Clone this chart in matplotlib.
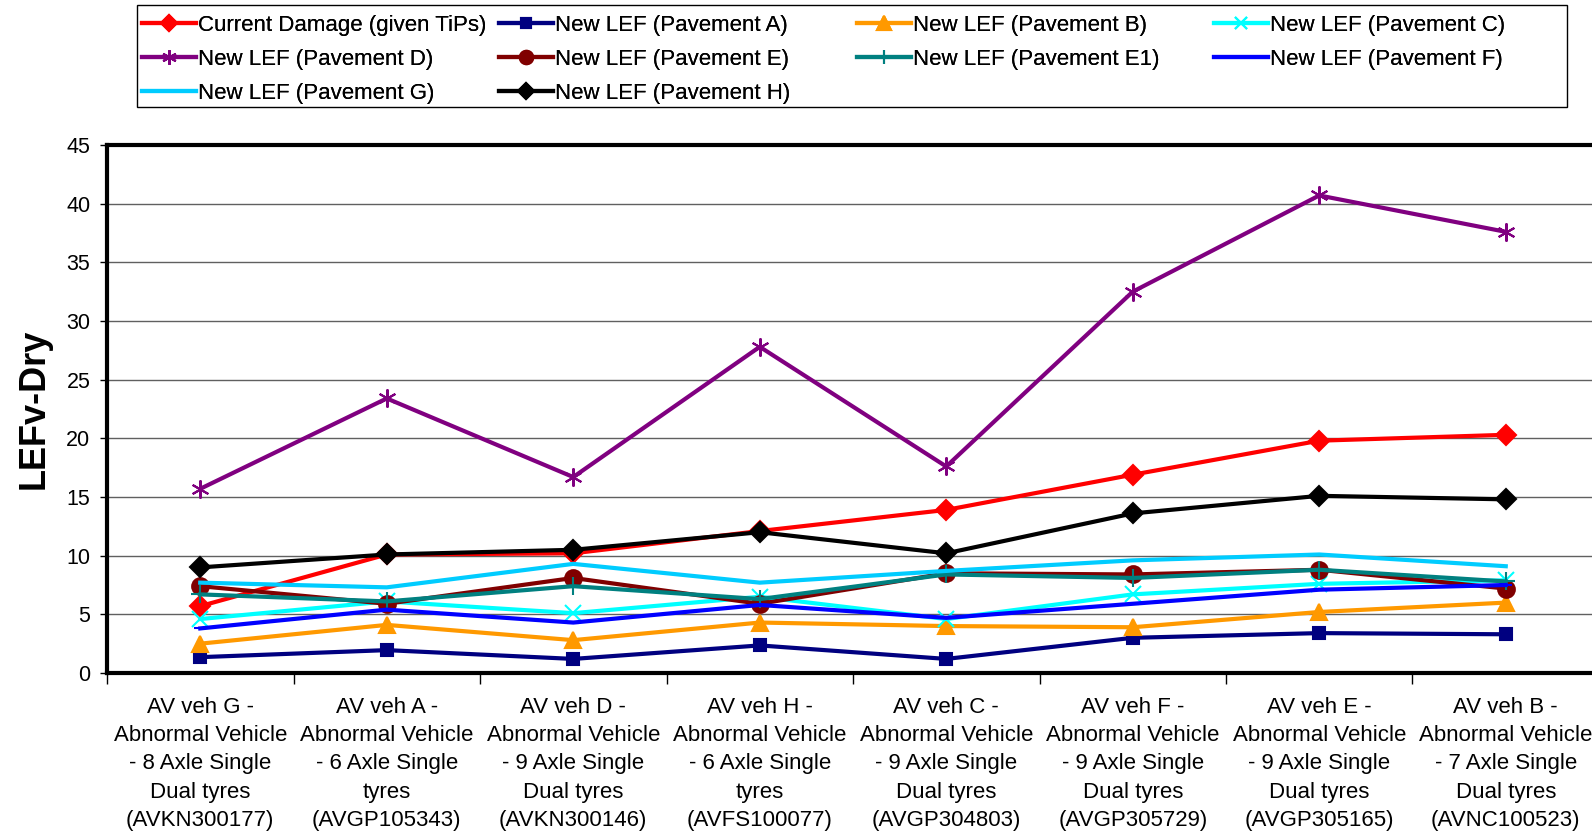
import matplotlib.pyplot as plt
from matplotlib.patches import Rectangle
import numpy as np

plt.rcParams['font.family'] = ['Liberation Sans', 'DejaVu Sans']

vehicles = [
    "AV veh G -\nAbnormal Vehicle\n- 8 Axle Single\nDual tyres\n(AVKN300177)",
    "AV veh A -\nAbnormal Vehicle\n- 6 Axle Single\ntyres\n(AVGP105343)",
    "AV veh D -\nAbnormal Vehicle\n- 9 Axle Single\nDual tyres\n(AVKN300146)",
    "AV veh H -\nAbnormal Vehicle\n- 6 Axle Single\ntyres\n(AVFS100077)",
    "AV veh C -\nAbnormal Vehicle\n- 9 Axle Single\nDual tyres\n(AVGP304803)",
    "AV veh F -\nAbnormal Vehicle\n- 9 Axle Single\nDual tyres\n(AVGP305729)",
    "AV veh E -\nAbnormal Vehicle\n- 9 Axle Single\nDual tyres\n(AVGP305165)",
    "AV veh B -\nAbnormal Vehicle\n- 7 Axle Single\nDual tyres\n(AVNC100523)",
]

# LEF values per vehicle
current_damage = [5.7, 10.1, 10.2, 12.1, 13.9, 16.9, 19.8, 20.3]
pave_a = [1.35, 1.95, 1.2, 2.35, 1.2, 3.0, 3.4, 3.3]
pave_b = [2.5, 4.1, 2.8, 4.3, 4.0, 3.9, 5.2, 6.0]
pave_c = [4.6, 6.1, 5.1, 6.5, 4.6, 6.7, 7.6, 7.9]
pave_d = [15.7, 23.4, 16.7, 27.8, 17.6, 32.5, 40.7, 37.6]
pave_e = [7.4, 5.9, 8.1, 5.9, 8.5, 8.4, 8.8, 7.2]
pave_e1 = [6.7, 6.1, 7.4, 6.3, 8.4, 8.1, 8.8, 7.8]
pave_f = [3.8, 5.4, 4.3, 5.8, 4.7, 5.9, 7.1, 7.5]
pave_g = [7.7, 7.3, 9.3, 7.7, 8.7, 9.6, 10.1, 9.1]
pave_h = [9.0, 10.1, 10.5, 12.0, 10.2, 13.6, 15.1, 14.8]

x = np.arange(len(vehicles))

fig = plt.figure(figsize=(15.92, 8.32), dpi=100)
ax = fig.add_axes([107 / 1592, 1 - 673 / 832, 1492 / 1592, 528 / 832])

# label, values, colour, marker, marker size
series = [
    ('Current Damage (given TiPs)', current_damage, '#FF0000', 'D', 10),
    ('New LEF (Pavement A)', pave_a, '#000080', 's', 9),
    ('New LEF (Pavement B)', pave_b, '#FF9900', '^', 12),
    ('New LEF (Pavement C)', pave_c, '#00FFFF', 'x', 11),
    ('New LEF (Pavement D)', pave_d, '#800080', (6, 2, 0), 13),
    ('New LEF (Pavement E)', pave_e, '#800000', 'o', 12),
    ('New LEF (Pavement E1)', pave_e1, '#008080', '+', 13),
    ('New LEF (Pavement F)', pave_f, '#0000FF', '_', 8),
    ('New LEF (Pavement G)', pave_g, '#00CCFF', 'None', 0),
    ('New LEF (Pavement H)', pave_h, '#000000', 'D', 10),
]

handles = {}
for label, vals, col, mk, ms in series:
    line, = ax.plot(x, vals, color=col, lw=3.0, marker=mk, ms=ms,
                    mfc=col, mec=col, mew=1.5, label=label, clip_on=False)
    handles[label] = line

ax.set_xlim(-0.5, 7.5)
ax.set_ylim(0, 45)
ax.set_yticks(range(0, 46, 5))
ax.tick_params(axis='y', labelsize=15.5, length=5, width=1, pad=7)
ax.yaxis.grid(True, color='#606060', lw=1)
ax.set_axisbelow(True)

ax.set_xticks(x)
ax.set_xticklabels(vehicles, fontsize=16, linespacing=1.46)
ax.tick_params(axis='x', which='major', length=0, pad=17)
ax.set_xticks(np.arange(-0.5, 8, 1), minor=True)
ax.tick_params(axis='x', which='minor', length=8, width=1)

for s in ax.spines.values():
    s.set_linewidth(3)

ax.set_ylabel('LEFv-Dry', fontsize=26, fontweight='bold')
ax.yaxis.set_label_coords(-0.037, 0.5)

# legend: four fixed-width columns inside one frame
columns = [
    ['Current Damage (given TiPs)', 'New LEF (Pavement D)', 'New LEF (Pavement G)'],
    ['New LEF (Pavement A)', 'New LEF (Pavement E)', 'New LEF (Pavement H)'],
    ['New LEF (Pavement B)', 'New LEF (Pavement E1)'],
    ['New LEF (Pavement C)', 'New LEF (Pavement F)'],
]
col_x = [142, 499, 857, 1214]
for cx, labels in zip(col_x, columns):
    leg = fig.legend([handles[l] for l in labels], labels,
                     loc='upper left', bbox_to_anchor=(cx / 1592, 1 - 15 / 832),
                     frameon=False, fontsize=16, borderpad=0, borderaxespad=0,
                     handlelength=2.45, handletextpad=0.08, labelspacing=0.58,
                     markerscale=0.8)
    fig.add_artist(leg)

fig.add_artist(Rectangle((137 / 1592, 1 - 107 / 832), 1430 / 1592, 102 / 832,
                         transform=fig.transFigure, fill=False, ec='black', lw=1))

fig.savefig('out.png', dpi=100)
